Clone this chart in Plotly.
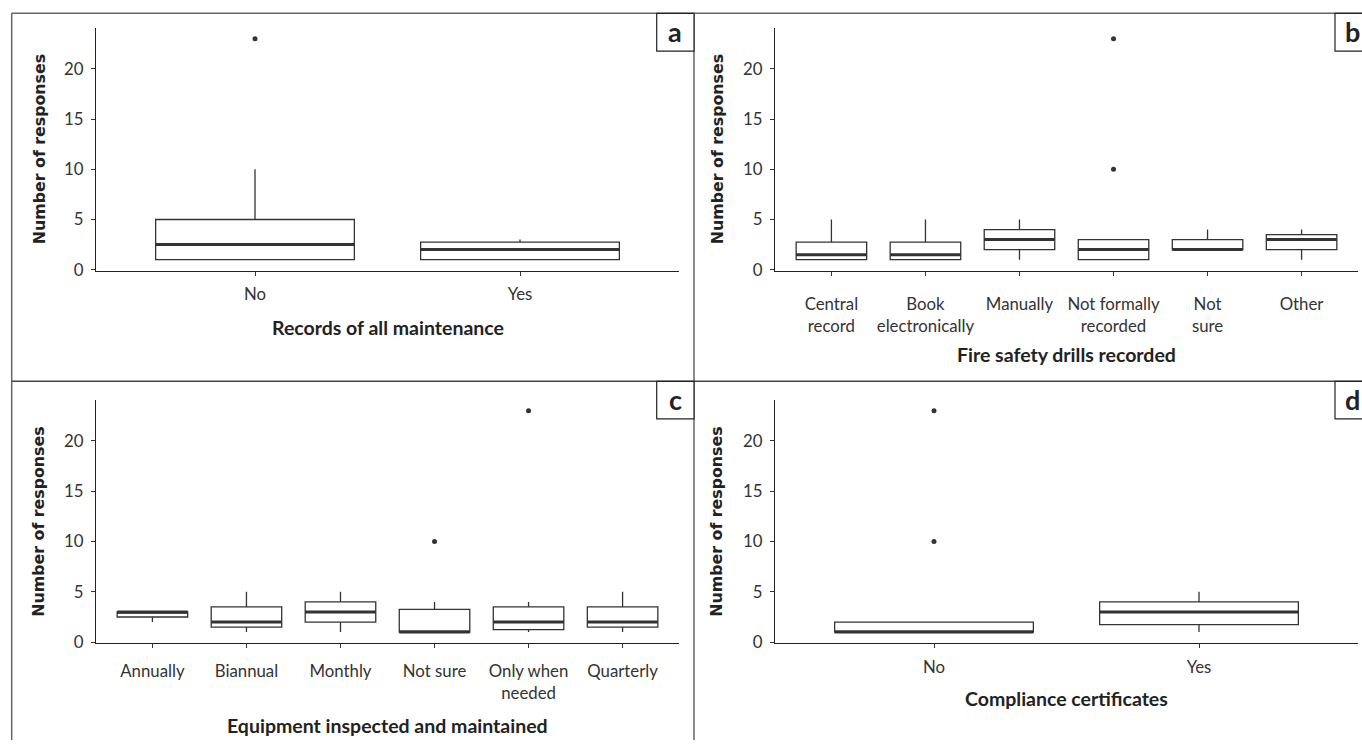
import plotly.graph_objects as go

# ---------------- data ----------------
a_cats = ["No", "Yes"]
a_q1 = [1, 1]
a_med = [2.5, 2]
a_q3 = [5, 2.75]
a_lo = [1, 1]
a_hi = [10, 3]
a_out_cat = ["No"]
a_out_val = [23]

b_cats = ["Central<br>record", "Book<br>electronically", "Manually",
          "Not formally<br>recorded", "Not<br>sure", "Other"]
b_q1 = [1, 1, 2, 1, 2, 2]
b_med = [1.5, 1.5, 3, 2, 2, 3]
b_q3 = [2.75, 2.75, 4, 3, 3, 3.5]
b_lo = [1, 1, 1, 1, 2, 1]
b_hi = [5, 5, 5, 3, 4, 4]
b_out_cat = ["Not formally<br>recorded", "Not formally<br>recorded"]
b_out_val = [10, 23]

c_cats = ["Annually", "Biannual", "Monthly", "Not sure",
          "Only when<br>needed", "Quarterly"]
c_q1 = [2.5, 1.5, 2, 1, 1.25, 1.5]
c_med = [3, 2, 3, 1, 2, 2]
c_q3 = [3, 3.5, 4, 3.25, 3.5, 3.5]
c_lo = [2, 1, 1, 1, 1, 1]
c_hi = [3, 5, 5, 4, 4, 5]
c_out_cat = ["Not sure", "Only when<br>needed"]
c_out_val = [10, 23]

d_cats = ["No", "Yes"]
d_q1 = [1, 1.75]
d_med = [1, 3]
d_q3 = [2, 4]
d_lo = [1, 1]
d_hi = [2, 5]
d_out_cat = ["No", "No"]
d_out_val = [10, 23]

x_titles = ["Records of all maintenance", "Fire safety drills recorded",
            "Equipment inspected and maintained", "Compliance certificates"]
y_title = "Number of responses"
panel_labels = ["a", "b", "c", "d"]
y_ticks = [0, 5, 10, 15, 20]

# ---------------- layout helpers ----------------
W, H = 1362, 749
def px_x(p):
    return p / W
def px_y(p):
    return 1 - p / H

BOX_W = 0.75
DARK = "#333333"
TICK_FONT = dict(family="Lato", size=16.8, color="#333333")

panels = [
    dict(cats=a_cats, q1=a_q1, med=a_med, q3=a_q3, lo=a_lo, hi=a_hi,
         oc=a_out_cat, ov=a_out_val, xd=(96, 679), yd=(274, 28), std=4),
    dict(cats=b_cats, q1=b_q1, med=b_med, q3=b_q3, lo=b_lo, hi=b_hi,
         oc=b_out_cat, ov=b_out_val, xd=(775, 1358), yd=(274, 28), std=14),
    dict(cats=c_cats, q1=c_q1, med=c_med, q3=c_q3, lo=c_lo, hi=c_hi,
         oc=c_out_cat, ov=c_out_val, xd=(96, 679), yd=(651, 404.5), std=9),
    dict(cats=d_cats, q1=d_q1, med=d_med, q3=d_q3, lo=d_lo, hi=d_hi,
         oc=d_out_cat, ov=d_out_val, xd=(775, 1358), yd=(651, 404.5), std=5),
]

fig = go.Figure()
layout_axes = {}
for i, p in enumerate(panels):
    n = len(p["cats"])
    pos = list(range(1, n + 1))
    sfx = "" if i == 0 else str(i + 1)
    xa, ya = "x" + sfx, "y" + sfx
    fig.add_trace(go.Box(
        x=pos, q1=p["q1"], median=p["med"], q3=p["q3"],
        lowerfence=p["lo"], upperfence=p["hi"],
        width=BOX_W, whiskerwidth=0, boxpoints=False,
        fillcolor="white", line=dict(color=DARK, width=1.3),
        xaxis=xa, yaxis=ya, hoverinfo="skip"))
    # thick median lines
    mx, my = [], []
    for k, m in zip(pos, p["med"]):
        mx += [k - BOX_W / 2, k + BOX_W / 2, None]
        my += [m, m, None]
    fig.add_trace(go.Scatter(x=mx, y=my, mode="lines",
                             line=dict(color=DARK, width=3),
                             xaxis=xa, yaxis=ya, hoverinfo="skip"))
    # outliers
    ox = [p["cats"].index(c) + 1 for c in p["oc"]]
    fig.add_trace(go.Scatter(x=ox, y=p["ov"], mode="markers",
                             marker=dict(color=DARK, size=5),
                             xaxis=xa, yaxis=ya, hoverinfo="skip"))
    layout_axes["xaxis" + sfx] = dict(
        domain=[px_x(p["xd"][0]), px_x(p["xd"][1])], anchor=ya,
        range=[0.4, n + 0.6], tickvals=pos, ticktext=p["cats"],
        showgrid=False, zeroline=False, showline=True,
        linecolor="#222222", linewidth=1.3, ticks="outside", ticklen=4,
        tickcolor=DARK, tickwidth=1, ticklabelstandoff=p["std"],
        tickfont=TICK_FONT)
    layout_axes["yaxis" + sfx] = dict(
        domain=[px_y(p["yd"][0]), px_y(p["yd"][1])], anchor=xa,
        range=[-0.1, 24.1], tickvals=y_ticks,
        showgrid=False, zeroline=False, showline=True,
        linecolor="#222222", linewidth=1.3, ticks="outside", ticklen=4,
        tickcolor=DARK, tickwidth=1, ticklabelstandoff=4,
        tickfont=TICK_FONT)

fig.update_layout(**layout_axes)

# ---------------- frame, labels, titles ----------------
shapes = []
LC = "#666666"
shapes.append(dict(type="line", xref="paper", yref="paper",
                   x0=px_x(11.7), x1=1, y0=px_y(13.5), y1=px_y(13.5),
                   line=dict(color=LC, width=1.5)))
shapes.append(dict(type="line", xref="paper", yref="paper",
                   x0=px_x(11.7), x1=px_x(11.7), y0=px_y(13.5), y1=0,
                   line=dict(color=LC, width=1.5)))
shapes.append(dict(type="line", xref="paper", yref="paper",
                   x0=px_x(694), x1=px_x(694), y0=px_y(13.5), y1=0,
                   line=dict(color=LC, width=1.5)))
shapes.append(dict(type="line", xref="paper", yref="paper",
                   x0=px_x(11.7), x1=1, y0=px_y(386), y1=px_y(386),
                   line=dict(color="#444444", width=1.5)))

label_boxes = [(656.7, 694, 13.5, 51.7), (1335, 1372, 13.5, 51.7),
               (656.7, 694, 386, 424), (1335, 1372, 386, 424)]
label_centers = [675.3, 1352, 675.3, 1352]
annotations = []
for lab, (x0, x1, y0, y1), cx in zip(panel_labels, label_boxes, label_centers):
    shapes.append(dict(type="rect", xref="paper", yref="paper",
                       x0=px_x(x0), x1=px_x(x1), y0=px_y(y0), y1=px_y(y1),
                       line=dict(color="#222222", width=1.2),
                       fillcolor="white"))
    annotations.append(dict(text="<b>" + lab + "</b>", xref="paper",
                            yref="paper", x=px_x(cx),
                            y=px_y((y0 + y1) / 2 - 1), showarrow=False,
                            xanchor="center", yanchor="middle",
                            font=dict(family="Lato", size=27,
                                      color="#222222")))

x_title_pos = [(387.5, 331), (1066.5, 359), (387.5, 734), (1066.5, 707)]
y_title_pos = [(39, 151), (717, 151), (39, 528), (717, 528)]
for t, (xx, yy) in zip(x_titles, x_title_pos):
    annotations.append(dict(text="<b>" + t + "</b>", xref="paper",
                            yref="paper", x=px_x(xx), y=px_y(yy),
                            showarrow=False, xanchor="center",
                            yanchor="middle",
                            font=dict(family="Lato", size=19.5,
                                      color="#222222")))
for (xx, yy) in y_title_pos:
    annotations.append(dict(text="<b>" + y_title + "</b>", xref="paper",
                            yref="paper", x=px_x(xx), y=px_y(yy),
                            showarrow=False, textangle=-90,
                            xanchor="center", yanchor="middle",
                            font=dict(family="DejaVu Sans", size=15.8,
                                      color="#222222")))

fig.update_layout(width=W, height=H, margin=dict(l=0, r=0, t=0, b=0),
                  paper_bgcolor="white", plot_bgcolor="white",
                  showlegend=False, shapes=shapes, annotations=annotations)

fig.write_html("out.html", config={"displayModeBar": False},
               post_script="document.body.style.margin='0';"
                           "document.body.style.overflow='hidden';")
